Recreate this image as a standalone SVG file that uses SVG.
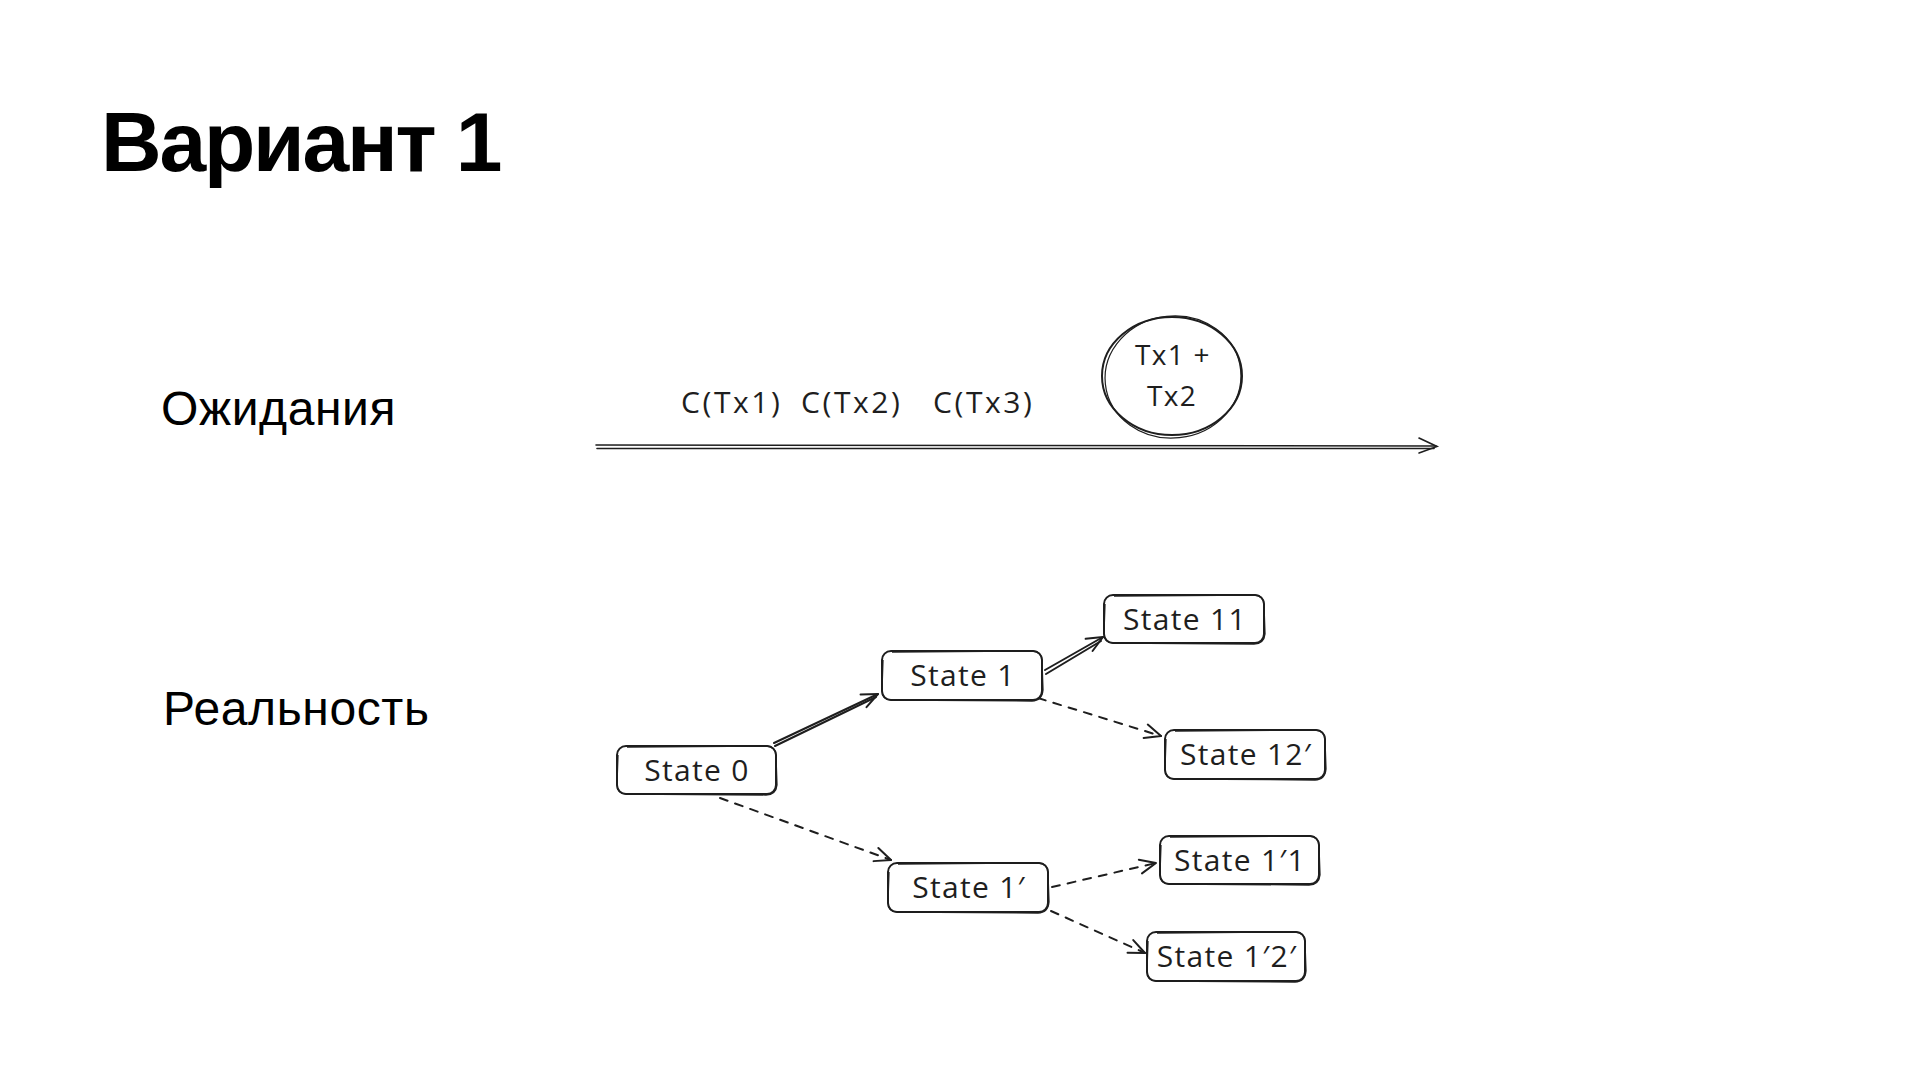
<svg xmlns="http://www.w3.org/2000/svg" width="1920" height="1080" viewBox="0 0 1920 1080">
<defs>
<marker id="ah" viewBox="0 0 20 20" refX="18" refY="10" markerWidth="20" markerHeight="20" markerUnits="userSpaceOnUse" orient="auto">
<path d="M2,3 L18,10 L2,17" fill="none" stroke="#1e1e1e" stroke-width="2" stroke-linecap="round" stroke-linejoin="round"/>
</marker>
</defs>
<style>
.title{font-family:"Liberation Sans",Arial,sans-serif;font-weight:bold;font-size:84px;fill:#000;letter-spacing:-2.2px}
.lbl{font-family:"Liberation Sans",Arial,sans-serif;font-size:48px;fill:#000;letter-spacing:0.6px}
.hand{font-family:"Open Sans","Noto Sans",sans-serif;font-size:30px;font-weight:500;fill:#1e1e1e;letter-spacing:1.3px}
.ctx{letter-spacing:2.6px}
.inc{font-size:28px}
.box{fill:#fff;stroke:#1e1e1e;stroke-width:2}
.box2{fill:none;stroke:#1e1e1e;stroke-width:1.3}
.solid{fill:none;stroke:#1e1e1e;stroke-width:2;stroke-linecap:round}
.dash{fill:none;stroke:#1e1e1e;stroke-width:2;stroke-dasharray:8 8;stroke-linecap:round}
.plain{fill:none;stroke:#1e1e1e;stroke-width:1.6;stroke-linecap:round}
</style>
<rect width="1920" height="1080" fill="#fff"/>
<text class="title" x="101" y="171">Вариант 1</text>
<text class="lbl" x="161" y="425">Ожидания</text>
<text class="lbl" x="163" y="725">Реальность</text>

<g id="timeline">
<path class="plain" d="M596,445 L1436,446"/>
<path class="plain" d="M597,448.5 L1434,448.5"/>
<path class="plain" d="M1419,438 L1437,446.5 L1419,453"/>
<text class="hand ctx" x="681" y="413">C(Tx1)</text>
<text class="hand ctx" x="801" y="413">C(Tx2)</text>
<text class="hand ctx" x="933" y="413">C(Tx3)</text>
</g>

<g id="merged">
<ellipse cx="1172" cy="376" rx="70" ry="59" fill="none" stroke="#1e1e1e" stroke-width="2"/>
<ellipse cx="1173" cy="377" rx="68" ry="61" fill="none" stroke="#1e1e1e" stroke-width="1.2" transform="rotate(-6 1173 377)"/>
<text class="hand inc" x="1173" y="365" text-anchor="middle">Tx1 +</text>
<text class="hand inc" x="1172" y="406" text-anchor="middle">Tx2</text>
</g>

<g id="connectors">
<path class="solid" d="M774,743 L878,694" marker-end="url(#ah)"/>
<path class="solid" d="M775,746 L876,697"/>
<path class="solid" d="M1045,670 L1103,637" marker-end="url(#ah)"/>
<path class="solid" d="M1046,674 L1101,641"/>
<path class="dash" d="M1038,698 L1161,736" marker-end="url(#ah)"/>
<path class="dash" d="M720,798 L891,860" marker-end="url(#ah)"/>
<path class="dash" d="M1052,887 L1156,863" marker-end="url(#ah)"/>
<path class="dash" d="M1051,911 L1145,953" marker-end="url(#ah)"/>
</g>

<g id="state0">
<rect class="box" x="617" y="746" width="159" height="48" rx="9"/>
<path class="box2" d="M627,747 L767,746 Q776,747 776,756 L777,785 Q776,795 766,795 L626,794 Q617,794 617,784 L618,755"/>
<text class="hand" x="697" y="781" text-anchor="middle">State 0</text>
</g>
<g id="state1">
<rect class="box" x="882" y="651" width="160" height="49" rx="9"/>
<path class="box2" d="M892,652 L1033,651 Q1042,652 1042,661 L1043,690 Q1042,701 1032,701 L891,700 Q882,700 882,690 L883,660"/>
<text class="hand" x="963" y="686" text-anchor="middle">State 1</text>
</g>
<g id="state11">
<rect class="box" x="1104" y="595" width="160" height="48" rx="9"/>
<path class="box2" d="M1114,596 L1255,595 Q1264,596 1264,605 L1265,634 Q1264,644 1254,644 L1113,643 Q1104,643 1104,633 L1105,604"/>
<text class="hand" x="1185" y="630" text-anchor="middle">State 11</text>
</g>
<g id="state12p">
<rect class="box" x="1165" y="730" width="160" height="49" rx="9"/>
<path class="box2" d="M1175,731 L1316,730 Q1325,731 1325,740 L1326,769 Q1325,780 1315,780 L1174,779 Q1165,779 1165,769 L1166,739"/>
<text class="hand" x="1246" y="765" text-anchor="middle">State 12′</text>
</g>
<g id="state1p">
<rect class="box" x="888" y="863" width="160" height="49" rx="9"/>
<path class="box2" d="M898,864 L1039,863 Q1048,864 1048,873 L1049,902 Q1048,913 1038,913 L897,912 Q888,912 888,902 L889,872"/>
<text class="hand" x="969" y="898" text-anchor="middle">State 1′</text>
</g>
<g id="state1p1">
<rect class="box" x="1160" y="836" width="159" height="48" rx="9"/>
<path class="box2" d="M1170,837 L1310,836 Q1319,837 1319,846 L1320,875 Q1319,885 1309,885 L1169,884 Q1160,884 1160,874 L1161,845"/>
<text class="hand" x="1240" y="871" text-anchor="middle">State 1′1</text>
</g>
<g id="state1p2p">
<rect class="box" x="1147" y="932" width="158" height="49" rx="9"/>
<path class="box2" d="M1157,933 L1296,932 Q1305,933 1305,942 L1306,971 Q1305,982 1295,982 L1156,981 Q1147,981 1147,971 L1148,941"/>
<text class="hand" x="1227" y="967" text-anchor="middle">State 1′2′</text>
</g>
</svg>
